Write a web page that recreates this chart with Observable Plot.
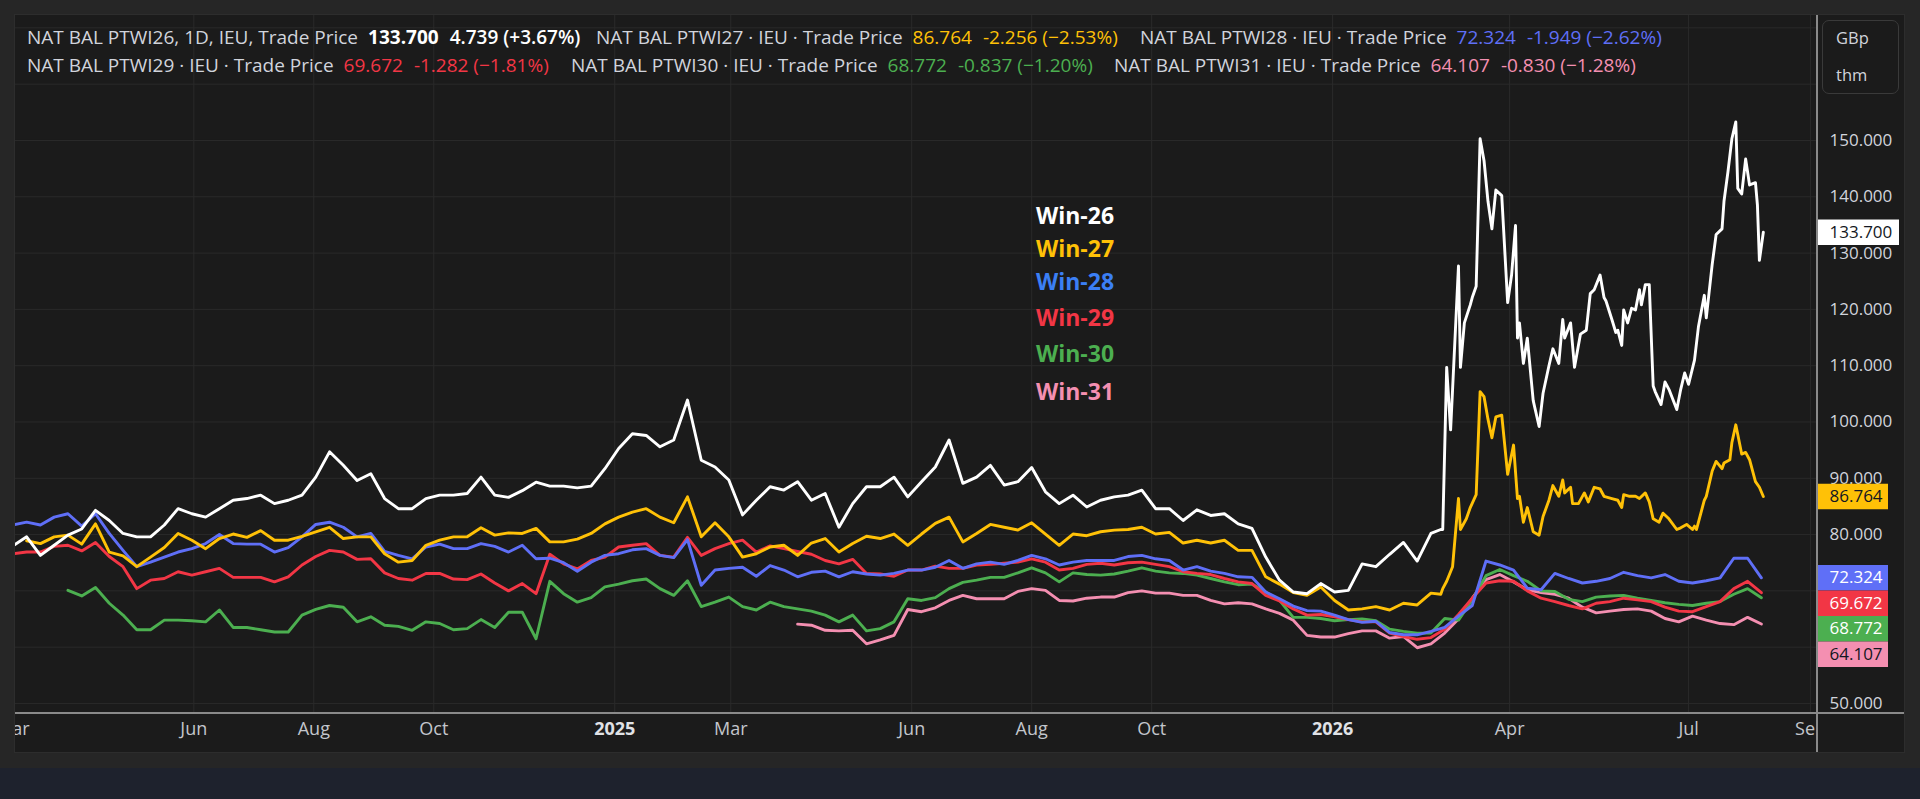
<!DOCTYPE html>
<html>
<head>
<meta charset="utf-8">
<script src="https://cdn.jsdelivr.net/npm/d3@7"></script>
<script src="https://cdn.jsdelivr.net/npm/@observablehq/plot@0.6"></script>
<style>
  html, body { margin: 0; padding: 0; }
  body { width: 1920px; height: 799px; background: #262626; position: relative; overflow: hidden; font-family: "Open Sans", sans-serif; }
  #pane { position: absolute; left: 14px; top: 14px; width: 1889px; height: 737px; background: #1b1b1b; border: 1px solid #2d2d2d; }
  #bottomStrip { position: absolute; left: 0; top: 768px; width: 1920px; height: 31px; background: #1e222d; }
  #main { position: absolute; left: 15px; top: 15px; width: 1802px; height: 737px; overflow: hidden; }
  #panel { position: absolute; left: 1817px; top: 15px; width: 87px; height: 737px; overflow: hidden; }
  #vline { position: absolute; left: 1816px; top: 15px; width: 1.5px; height: 737px; background: #8a8a8a; }
  #hline { position: absolute; left: 15px; top: 712px; width: 1889px; height: 1.5px; background: #8a8a8a; }
  .legendRow { position: absolute; left: 0; height: 26px; line-height: 26px; font-size: 19px; white-space: nowrap; }
  .group { position: absolute; top: 0; color: #d1d4dc; }
  .group span.v { margin-left: 10px; }
  .group span.c { margin-left: 11px; }
  #unitBox { position: absolute; left: 1822px; top: 20px; width: 75px; height: 72px; border: 1px solid #3a3a3a; border-radius: 7px; background: #1b1b1b; color: #d1d4dc; font-size: 16.5px; }
  #unitBox div { position: absolute; left: 13px; height: 22px; line-height: 22px; }
  .ann { position: absolute; left: 1036px; height: 30px; line-height: 30px; font-size: 23px; font-weight: 700; white-space: nowrap; }
</style>
</head>
<body>
<div id="pane"></div>
<div id="bottomStrip"></div>
<div id="main"></div>
<div id="panel"></div>
<div id="vline"></div>
<div id="hline"></div>
<div id="legend"></div>
<div id="unitBox"><div style="top:6px">GBp</div><div style="top:43px">thm</div></div>
<div id="annotations"></div>
<script>
// ---------------- DATA ----------------
const seriesNames  = ["Win-26", "Win-27", "Win-28", "Win-29", "Win-30", "Win-31"];
const seriesColors = ["#ffffff", "#ffc107", "#5f6ff7", "#f23645", "#4caf50", "#f48fb1"];
const labelColors  = ["#ffffff", "#ffc107", "#3b7ff5", "#f23645", "#4caf50", "#f48fb1"];
// first weekly observation of each contract (one value every 7 days afterwards)
const seriesStarts = ["2024-03-01", "2024-03-08", "2024-03-01", "2024-03-01", "2024-03-29", "2025-04-04"];

// weekly closes (Win-26 and Win-27 weekly up to 2026-02-20, then the detailed arrays below)
const win26 = [
  78.0, 79.6, 76.3, 78.1, 79.9, 81.0, 84.3, 82.5, 80.2, 79.6,
  79.6, 81.7, 84.6, 83.7, 83.1, 84.6, 86.1, 86.4, 87.0, 85.5,
  86.1, 87.0, 90.2, 94.7, 92.3, 89.6, 90.8, 86.4, 84.6, 84.6,
  86.4, 87.0, 87.0, 87.3, 90.2, 87.0, 86.6, 87.8, 89.3, 88.6,
  88.6, 88.3, 88.6, 91.7, 95.3, 97.9, 97.6, 95.6, 96.8, 103.9,
  93.2, 92.0, 89.7, 83.5, 86.1, 88.5, 87.9, 89.4, 86.1, 87.3,
  81.3, 85.5, 88.5, 88.5, 90.2, 86.7, 89.4, 92.0, 96.8, 89.1,
  90.2, 92.3, 88.8, 89.4, 91.9, 87.6, 85.5, 87.0, 84.9, 86.1,
  86.7, 87.0, 87.9, 84.6, 84.6, 82.5, 84.4, 83.4, 83.7, 81.9,
  81.1, 76.0, 71.9, 69.8, 69.5, 71.3, 69.8, 70.1, 74.8, 74.3,
  76.5, 78.6, 75.3, 80.2
];
const win26RecentDates = [
  "2026-02-25", "2026-02-26", "2026-02-28", "2026-03-02", "2026-03-03", "2026-03-06", "2026-03-07", "2026-03-09",
  "2026-03-12", "2026-03-13", "2026-03-15", "2026-03-17", "2026-03-19", "2026-03-21", "2026-03-23", "2026-03-25",
  "2026-03-28", "2026-03-31", "2026-04-02", "2026-04-04", "2026-04-05", "2026-04-06", "2026-04-08", "2026-04-10",
  "2026-04-13", "2026-04-16", "2026-04-18", "2026-04-21", "2026-04-23", "2026-04-26", "2026-04-28", "2026-04-29",
  "2026-05-02", "2026-05-04", "2026-05-07", "2026-05-10", "2026-05-12", "2026-05-14", "2026-05-17", "2026-05-19",
  "2026-05-20", "2026-05-23", "2026-05-25", "2026-05-26", "2026-05-28", "2026-05-29", "2026-05-31", "2026-06-02",
  "2026-06-04", "2026-06-06", "2026-06-07", "2026-06-09", "2026-06-11", "2026-06-13", "2026-06-14", "2026-06-17",
  "2026-06-19", "2026-06-21", "2026-06-25", "2026-06-27", "2026-06-29", "2026-07-01", "2026-07-04", "2026-07-06",
  "2026-07-09", "2026-07-10", "2026-07-13", "2026-07-15", "2026-07-18", "2026-07-19", "2026-07-21", "2026-07-23",
  "2026-07-25", "2026-07-26", "2026-07-28", "2026-07-30", "2026-08-01", "2026-08-04", "2026-08-05", "2026-08-06",
  "2026-08-08"
];
const win26Recent = [
  80.9, 80.9, 109.7, 98.6, 105.8, 127.7, 109.7, 117.6,
  120.8, 122.1, 124.1, 150.3, 146.4, 139.2, 134.3, 141.2,
  140.2, 121.2, 126.1, 134.9, 114.9, 117.6, 110.4, 114.9,
  103.8, 99.2, 105.1, 110.0, 113.0, 110.4, 118.2, 114.9,
  117.6, 109.7, 115.6, 116.3, 122.8, 123.5, 126.1, 122.1,
  121.5, 118.2, 115.9, 116.3, 113.6, 119.9, 117.6, 120.2,
  119.9, 123.5, 120.8, 124.4, 124.4, 106.4, 105.4, 103.1,
  107.1, 105.8, 102.2, 105.8, 108.7, 106.7, 111.0, 116.9,
  122.5, 118.5, 128.0, 133.3, 134.3, 139.2, 144.4, 150.3,
  153.3, 141.5, 140.5, 146.7, 142.1, 142.5, 138.5, 128.7,
  133.7
];
const win27 = [
        78.9, 78.4, 79.6, 79.9, 78.3, 81.9, 76.9, 76.2, 74.3,
  76.0, 77.7, 80.2, 79.0, 77.5, 79.3, 80.1, 79.5, 80.7, 79.0,
  79.0, 79.7, 80.5, 81.3, 79.3, 79.6, 79.6, 76.6, 75.1, 75.4,
  78.1, 79.0, 79.6, 79.6, 81.2, 79.9, 80.3, 80.2, 81.1, 78.7,
  78.7, 79.2, 80.2, 81.9, 83.1, 84.0, 84.6, 83.1, 82.1, 86.7,
  79.6, 82.1, 79.6, 76.0, 76.6, 77.8, 78.1, 76.3, 78.5, 79.3,
  76.9, 78.4, 79.7, 79.3, 80.1, 78.1, 80.1, 82.0, 83.1, 78.7,
  80.2, 81.8, 81.3, 80.8, 82.1, 80.1, 78.1, 80.1, 79.8, 80.5,
  80.8, 80.9, 81.3, 80.1, 80.4, 78.5, 79.0, 78.5, 79.0, 77.2,
  77.2, 72.5, 71.2, 69.7, 69.2, 70.7, 68.3, 66.6, 66.8, 67.2,
  66.6, 67.8, 67.5, 69.6
];
const win27RecentDates = [
  "2026-02-25", "2026-02-26", "2026-02-28", "2026-03-03", "2026-03-06", "2026-03-07", "2026-03-10", "2026-03-12",
  "2026-03-15", "2026-03-17", "2026-03-19", "2026-03-21", "2026-03-23", "2026-03-25", "2026-03-28", "2026-03-31",
  "2026-04-03", "2026-04-05", "2026-04-06", "2026-04-08", "2026-04-10", "2026-04-13", "2026-04-16", "2026-04-18",
  "2026-04-21", "2026-04-23", "2026-04-26", "2026-04-28", "2026-04-29", "2026-05-02", "2026-05-03", "2026-05-06",
  "2026-05-09", "2026-05-11", "2026-05-14", "2026-05-17", "2026-05-19", "2026-05-23", "2026-05-26", "2026-05-28",
  "2026-05-29", "2026-06-01", "2026-06-04", "2026-06-06", "2026-06-09", "2026-06-11", "2026-06-13", "2026-06-16",
  "2026-06-18", "2026-06-21", "2026-06-25", "2026-06-27", "2026-06-30", "2026-07-03", "2026-07-04", "2026-07-05",
  "2026-07-09", "2026-07-10", "2026-07-13", "2026-07-15", "2026-07-18", "2026-07-19", "2026-07-22", "2026-07-23",
  "2026-07-25", "2026-07-28", "2026-07-30", "2026-08-01", "2026-08-04", "2026-08-06", "2026-08-08"
];
const win27Recent = [
  69.4, 70.4, 71.7, 74.3, 86.4, 80.9, 82.8, 84.8,
  87.1, 105.4, 104.5, 100.5, 97.2, 100.9, 101.2, 90.7,
  95.9, 86.4, 86.8, 82.2, 84.8, 80.5, 79.9, 83.2,
  86.1, 88.7, 86.8, 89.7, 87.4, 88.4, 85.5, 85.5,
  87.4, 85.8, 88.4, 88.1, 86.8, 86.4, 86.1, 84.8,
  87.1, 86.8, 86.8, 86.4, 87.4, 85.8, 82.8, 82.2,
  83.8, 82.8, 80.9, 81.2, 81.8, 80.9, 81.5, 80.9,
  86.1, 86.8, 91.3, 93.0, 91.7, 92.7, 93.3, 96.3,
  99.5, 94.3, 94.6, 93.3, 89.4, 88.4, 86.764
];
const win28 = [
  81.7, 82.2, 81.7, 83.1, 83.7, 81.5, 83.7, 80.2, 77.2, 74.3,
  75.1, 76.0, 76.9, 77.5, 78.4, 80.0, 78.4, 78.3, 78.3, 76.9,
  77.7, 79.6, 81.8, 82.2, 81.3, 79.6, 80.2, 77.0, 76.3, 75.7,
  77.8, 78.3, 77.5, 77.5, 78.4, 77.9, 76.9, 78.1, 75.7, 75.8,
  75.0, 73.5, 75.1, 76.3, 76.6, 77.3, 77.5, 76.3, 75.9, 79.1,
  71.0, 73.7, 74.0, 74.2, 72.6, 74.5, 73.7, 72.5, 73.3, 73.5,
  72.5, 73.4, 73.0, 72.8, 73.1, 73.7, 73.7, 74.2, 75.4, 74.0,
  74.8, 75.1, 74.7, 75.4, 76.3, 75.7, 74.6, 75.1, 75.4, 75.4,
  75.4, 76.1, 76.3, 75.7, 75.4, 73.7, 74.3, 73.5, 73.1, 72.5,
  72.4, 69.8, 68.6, 67.3, 66.5, 66.4, 65.7, 64.9, 64.4, 64.6,
  62.6, 62.2, 62.2, 62.8, 63.5, 65.5, 67.4, 75.3, 74.6, 73.7,
  70.5, 70.2, 73.1, 72.2, 71.4, 71.7, 72.2, 73.3, 72.7, 72.3,
  72.9, 71.7, 71.4, 71.8, 72.3, 75.8, 75.8, 72.324
];
const win29 = [
  76.6, 76.9, 76.9, 77.9, 78.1, 77.1, 78.6, 76.1, 74.3, 70.4,
  71.9, 72.2, 73.4, 72.8, 73.4, 74.0, 72.4, 72.4, 72.4, 71.6,
  72.5, 74.6, 76.1, 77.2, 76.9, 75.6, 75.7, 73.2, 72.2, 71.9,
  73.1, 73.1, 72.1, 72.0, 73.0, 71.4, 70.0, 71.3, 69.5, 76.5,
  74.8, 73.9, 75.4, 76.0, 77.8, 78.1, 78.4, 76.3, 76.0, 79.5,
  76.3, 77.5, 78.4, 79.0, 76.9, 78.0, 77.5, 77.0, 76.5, 75.4,
  74.8, 75.6, 73.1, 73.0, 72.6, 73.7, 73.7, 74.4, 74.0, 74.0,
  74.6, 74.7, 74.9, 75.1, 75.7, 75.1, 73.7, 74.0, 74.7, 74.9,
  74.6, 75.0, 75.1, 74.7, 74.3, 73.4, 73.1, 72.9, 72.2, 71.6,
  71.3, 69.2, 68.2, 66.8, 65.7, 65.8, 65.4, 64.9, 64.5, 64.5,
  62.5, 61.9, 61.4, 61.7, 63.2, 65.8, 68.7, 71.4, 71.8, 71.7,
  70.0, 68.7, 68.1, 67.4, 66.8, 67.8, 68.1, 68.7, 68.4, 68.1,
  67.1, 66.4, 66.3, 67.2, 68.1, 70.4, 71.7, 69.672
];
const win30 = [
                          70.1, 69.1, 70.6, 67.8, 65.7, 63.1,
  63.1, 64.8, 64.8, 64.7, 64.5, 66.6, 63.5, 63.5, 63.1, 62.7,
  62.7, 65.7, 66.7, 67.4, 67.1, 64.5, 65.4, 63.9, 63.7, 63.0,
  64.5, 64.2, 63.1, 63.3, 64.9, 63.5, 66.2, 66.2, 61.5, 71.7,
  69.5, 68.0, 68.8, 70.7, 71.2, 71.8, 72.1, 70.4, 69.2, 71.8,
  67.2, 68.0, 68.9, 67.2, 66.6, 68.0, 67.2, 66.8, 66.4, 65.7,
  64.5, 65.7, 62.9, 63.3, 64.5, 68.6, 68.3, 68.8, 70.4, 71.5,
  71.9, 72.4, 72.4, 73.2, 74.1, 73.2, 71.6, 73.2, 72.9, 72.8,
  73.0, 73.5, 74.1, 73.5, 73.2, 73.1, 72.8, 72.2, 71.6, 71.1,
  71.2, 69.8, 68.3, 65.3, 65.3, 65.1, 64.7, 64.9, 65.0, 64.7,
  63.2, 62.8, 62.5, 62.5, 65.1, 64.8, 68.4, 72.7, 73.8, 72.7,
  71.7, 70.0, 69.9, 68.5, 68.1, 68.9, 69.1, 69.2, 68.7, 68.3,
  67.9, 67.6, 67.4, 67.8, 68.1, 69.4, 70.4, 68.772
];
const win31 = [
                                            64.1, 63.9, 63.0,
  62.9, 63.0, 60.6, 61.3, 62.1, 66.7, 66.3, 67.0, 68.3, 69.2,
  68.6, 68.6, 68.6, 69.9, 70.4, 70.1, 68.3, 68.2, 68.7, 68.9,
  68.9, 69.7, 70.0, 69.6, 69.6, 69.2, 69.2, 68.3, 67.7, 67.9,
  67.7, 66.8, 66.0, 64.8, 62.1, 61.8, 61.8, 62.4, 62.9, 62.9,
  61.6, 61.9, 59.9, 60.6, 62.5, 65.0, 68.7, 72.0, 72.9, 71.6,
  70.2, 69.7, 69.4, 68.7, 67.1, 66.1, 66.4, 66.7, 66.8, 66.4,
  65.1, 64.5, 65.5, 64.8, 64.2, 64.0, 65.3, 64.107
];

const xTickDates  = ["2024-03-01", "2024-06-01", "2024-08-01", "2024-10-01", "2025-01-01", "2025-03-01",
                     "2025-06-01", "2025-08-01", "2025-10-01", "2026-01-01", "2026-04-01", "2026-07-01", "2026-09-01"];
const xTickLabels = ["Mar", "Jun", "Aug", "Oct", "2025", "Mar", "Jun", "Aug", "Oct", "2026", "Apr", "Jul", "Sep"];
const yTickValues = [50, 60, 70, 80, 90, 100, 110, 120, 130, 140, 150];
const yGridValues = [50, 60, 70, 80, 90, 100, 110, 120, 130, 140, 150, 160, 170];

const lastLabels    = ["133.700", "86.764", "72.324", "69.672", "68.772", "64.107"];
const tagTextColors = ["#131722", "#131722", "#ffffff", "#ffffff", "#ffffff", "#131722"];

const legendLabels  = ["NAT BAL PTWI26, 1D, IEU, Trade Price", "NAT BAL PTWI27 · IEU · Trade Price", "NAT BAL PTWI28 · IEU · Trade Price",
                       "NAT BAL PTWI29 · IEU · Trade Price", "NAT BAL PTWI30 · IEU · Trade Price", "NAT BAL PTWI31 · IEU · Trade Price"];
const legendValues  = ["133.700", "86.764", "72.324", "69.672", "68.772", "64.107"];
const legendChanges = ["4.739 (+3.67%)", "-2.256 (−2.53%)", "-1.949 (−2.62%)", "-1.282 (−1.81%)", "-0.837 (−1.20%)", "-0.830 (−1.28%)"];

// ---------------- LAYOUT / CHART ----------------
const weeklyBySeries = [win26, win27, win28, win29, win30, win31];
const recentBySeries = [[win26RecentDates, win26Recent], [win27RecentDates, win27Recent], null, null, null, null];
const yDomain = [48.22, 172.2];
const xDomain = [new Date("2024-03-02T08:00Z"), new Date("2026-09-04T13:00Z")];
const H = 737, MB = 39;

const rows = [];
const lastValue = [];
for (let s = seriesNames.length - 1; s >= 0; s--) {
  const start = new Date(seriesStarts[s] + "T00:00Z");
  weeklyBySeries[s].forEach((v, k) => rows.push({series: seriesNames[s], date: d3.utcDay.offset(start, 7 * k), value: v}));
  if (recentBySeries[s]) {
    const [ds, vs] = recentBySeries[s];
    ds.forEach((d, k) => rows.push({series: seriesNames[s], date: new Date(d + "T00:00Z"), value: vs[k]}));
    lastValue[s] = vs[vs.length - 1];
  } else {
    lastValue[s] = weeklyBySeries[s][weeklyBySeries[s].length - 1];
  }
}
const ticks = xTickDates.map((d, i) => ({date: new Date(d + "T00:00Z"), label: xTickLabels[i], year: /^\d{4}$/.test(xTickLabels[i])}));

const mainPlot = Plot.plot({
  width: 1802, height: H,
  marginLeft: 0, marginRight: 0, marginTop: 0, marginBottom: MB,
  style: {background: "transparent", overflow: "hidden", fontFamily: "Open Sans"},
  x: {type: "utc", domain: xDomain, axis: null},
  y: {domain: yDomain, axis: null},
  color: {domain: seriesNames, range: seriesColors},
  marks: [
    Plot.ruleY(yGridValues, {stroke: "#2a2a2a", strokeWidth: 1}),
    Plot.ruleX(ticks, {x: "date", stroke: "#2a2a2a", strokeWidth: 1}),
    Plot.text(ticks.filter(t => !t.year), {x: "date", text: "label", frameAnchor: "bottom", dy: 21, fill: "#c3c6cc", fontSize: 18}),
    Plot.text(ticks.filter(t => t.year), {x: "date", text: "label", frameAnchor: "bottom", dy: 21, fill: "#e0e2e6", fontSize: 18, fontWeight: 700}),
    Plot.line(rows, {x: "date", y: "value", z: "series", stroke: "series", strokeWidth: 2.9, strokeLinejoin: "round", strokeLinecap: "round"})
  ]
});
document.getElementById("main").appendChild(mainPlot);

// price tags on the right scale, stacked so they do not overlap
const ypx = d3.scaleLinear(yDomain, [H - MB, 0]);
const tagH = 25.5;
let tags = seriesNames.map((name, i) => {
  const v = lastValue[i];
  return {name, value: v, py: ypx(v), label: lastLabels[i], fill: seriesColors[i], text: tagTextColors[i]};
}).sort((a, b) => a.py - b.py);
let prevBottom = -Infinity;
for (const t of tags) {
  const top = Math.max(t.py - tagH / 2, prevBottom);
  t.top = top; t.bottom = top + tagH;
  t.center = ypx.invert(top + tagH / 2);
  prevBottom = top + tagH;
}
// labels whose centre lies under a tag are hidden by it anyway
const visibleTicks = yTickValues.filter(v => !tags.some(t => ypx(v) > t.top && ypx(v) < t.bottom));

const panelPlot = Plot.plot({
  width: 87, height: H,
  marginLeft: 0, marginRight: 0, marginTop: 0, marginBottom: MB,
  style: {background: "transparent", overflow: "hidden", fontFamily: "Open Sans"},
  y: {domain: yDomain, axis: null},
  color: {type: "identity"},
  marks: [
    Plot.text(visibleTicks, {y: d => d, text: d => d3.format(".3f")(d), frameAnchor: "left", dx: 12, textAnchor: "start", fill: "#d1d4dc", fontSize: 17}),
    Plot.ruleY(tags.filter(t => t.label.length > 6), {y: "center", stroke: "fill", strokeWidth: tagH, insetLeft: 1, insetRight: 5}),
    Plot.ruleY(tags.filter(t => t.label.length <= 6), {y: "center", stroke: "fill", strokeWidth: tagH, insetLeft: 1, insetRight: 16}),
    Plot.text(tags, {y: "center", text: "label", frameAnchor: "left", dx: 12, textAnchor: "start", fill: "text", fontSize: 17})
  ]
});
document.getElementById("panel").appendChild(panelPlot);

// legend (two rows, three instruments each)
const legendRowTops = [24, 52];
const legendGroupLefts = [[27, 596, 1140], [27, 571, 1114]];
const legend = document.getElementById("legend");
legendRowTops.forEach((top, r) => {
  const row = document.createElement("div");
  row.className = "legendRow";
  row.style.top = top + "px";
  for (let g = 0; g < 3; g++) {
    const i = r * 3 + g;
    const grp = document.createElement("div");
    grp.className = "group";
    grp.style.left = legendGroupLefts[r][g] + "px";
    const lab = document.createElement("span"); lab.textContent = legendLabels[i];
    const val = document.createElement("span"); val.className = "v"; val.textContent = legendValues[i];
    const chg = document.createElement("span"); chg.className = "c"; chg.textContent = legendChanges[i];
    val.style.color = seriesColors[i];
    chg.style.color = seriesColors[i];
    if (i === 0) { val.style.fontWeight = 700; chg.style.fontWeight = 600; }
    grp.append(lab, val, chg);
    row.appendChild(grp);
  }
  legend.appendChild(row);
});

// text annotations drawn on the chart
const annCenters = [215.5, 248.6, 281.6, 318.4, 353.9, 391.8];
const ann = document.getElementById("annotations");
seriesNames.forEach((name, i) => {
  const d = document.createElement("div");
  d.className = "ann";
  d.style.top = (annCenters[i] - 16) + "px";
  d.style.color = labelColors[i];
  d.textContent = name;
  ann.appendChild(d);
});
</script>
</body>
</html>
